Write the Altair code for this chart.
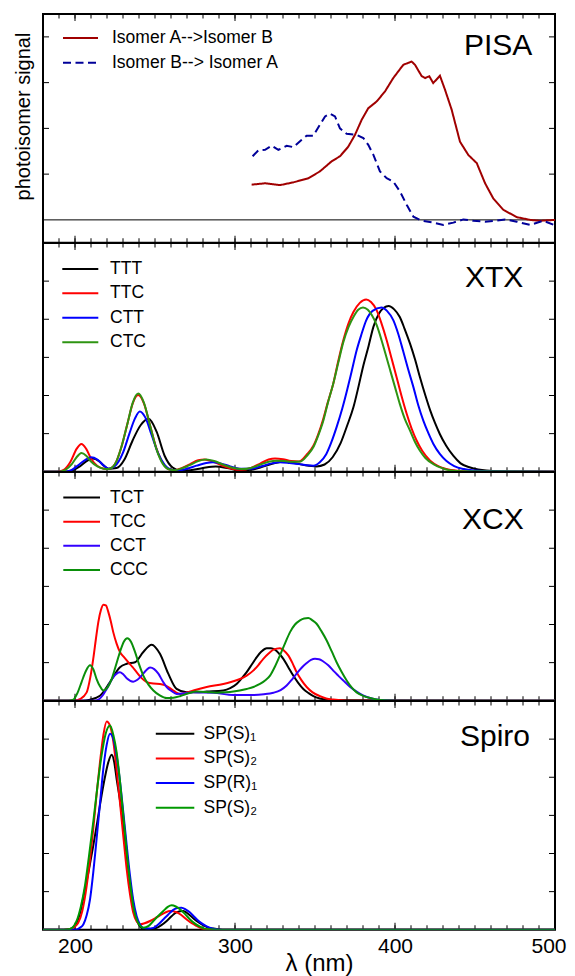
import altair as alt
import pandas as pd

FONT = "Liberation Sans"
W = 512
H = 228.75

# ---------------- axis / tick values ----------------
minor_ticks = [180, 190, 200, 210, 220, 230, 240, 250, 260, 270, 280, 290, 300,
               310, 320, 330, 340, 350, 360, 370, 380, 390, 400, 410, 420, 430,
               440, 450, 460, 470, 480, 490, 500]
major_ticks = [200, 300, 400, 500]
x_labels = [200, 300, 400, 500]
pisa_yticks = [1, 2, 3, 4]
spec_yticks = [1, 2, 3, 4, 5]

# ---------------- PISA ----------------
pisa_names = ["Isomer A-->Isomer B", "Isomer B--> Isomer A"]
pisa_colors = ["#a00000", "#000099"]
pisa_ab_nm = [310.4, 318.8, 328.1, 336.5, 345.8, 353.1, 360.4, 365.6, 370.8, 375.0,
              379.2, 383.3, 388.6, 393.8, 398.9, 405.2, 410.4, 412.5, 416.7, 418.8,
              421.4, 423.9, 428.1, 431.3, 435.4, 440.6, 445.8, 451.1, 456.3, 461.4,
              467.7, 476.1, 484.4, 490.6, 500.0]
pisa_ab_v = [0.77, 0.80, 0.76, 0.82, 0.91, 1.06, 1.28, 1.39, 1.60, 1.86,
             2.19, 2.44, 2.59, 2.81, 3.10, 3.39, 3.46, 3.39, 3.14, 3.10,
             3.14, 2.99, 3.15, 2.84, 2.41, 1.71, 1.42, 1.24, 0.80, 0.47,
             0.22, 0.06, 0.00, -0.02, 0.00]
pisa_ba_nm = [311.0, 314.6, 318.8, 322.9, 327.1, 332.3, 336.5, 341.7, 344.8, 348.9,
              353.1, 356.3, 359.4, 362.5, 365.6, 369.8, 376.0, 380.2, 383.3, 386.5,
              390.6, 394.8, 398.9, 403.1, 407.3, 411.5, 416.7, 423.9, 430.2, 436.5,
              442.7, 449.0, 456.3, 462.5, 468.8, 476.1, 484.4, 492.7, 500.0]
pisa_ba_v = [1.39, 1.52, 1.53, 1.62, 1.53, 1.62, 1.59, 1.75, 1.84, 1.84,
             2.08, 2.26, 2.32, 2.26, 2.00, 1.88, 1.86, 1.79, 1.64, 1.42,
             1.06, 0.91, 0.84, 0.62, 0.33, 0.07, -0.02, -0.06, -0.11, -0.06,
             0.01, -0.02, -0.04, -0.02, 0.01, -0.04, -0.11, -0.02, -0.12]

# ---------------- XTX ----------------
xtx_names = ["TTT", "TTC", "CTT", "CTC"]
xtx_colors = ["#000000", "#ff0000", "#0000ff", "#2e9412"]
ttt_nm = [180, 193, 198, 203, 207, 211, 215, 218, 221, 226, 231, 236, 241, 246, 251,
          256, 261, 266, 272, 280, 288, 296, 303, 310, 318, 325, 331, 337, 344, 351,
          356, 361, 366, 370, 374, 377, 380, 383.5, 386.5, 390, 393, 396, 399.5, 403,
          406, 409.4, 412.5, 415.6, 419, 422, 425, 428, 432, 436.4, 441, 447, 452,
          457, 466, 500]
ttt_v = [0, 0, 0.03, 0.14, 0.27, 0.35, 0.28, 0.16, 0.08, 0.10, 0.33, 0.82, 1.22, 1.39,
         1.05, 0.42, 0.11, 0.03, 0.04, 0.10, 0.14, 0.09, 0.03, 0.05, 0.14, 0.23, 0.26,
         0.23, 0.17, 0.14, 0.19, 0.38, 0.75, 1.20, 1.69, 2.20, 2.75, 3.30, 3.80, 4.15,
         4.30, 4.35, 4.26, 4.06, 3.75, 3.36, 2.95, 2.48, 2.00, 1.61, 1.28, 0.99, 0.68,
         0.42, 0.22, 0.11, 0.06, 0.03, 0.01, 0]
ttc_nm = [180, 189, 193, 197, 201, 204, 207, 210, 214, 218, 221, 225, 229, 233, 236,
          239.5, 243, 247, 251, 255, 259, 262, 267, 272, 277, 281, 286, 292, 298, 304,
          310, 316, 321, 325, 330, 335, 340, 345, 349, 352, 355.2, 358, 361.4, 364.5,
          367.7, 371, 374, 378, 382, 385, 388.5, 391.5, 394.8, 398, 401, 404, 407.3,
          410.5, 413.5, 417, 422, 427, 432, 440, 450, 500]
ttc_v = [0, 0, 0.05, 0.25, 0.60, 0.73, 0.60, 0.35, 0.15, 0.08, 0.07, 0.20, 0.65, 1.30,
         1.78, 2.01, 1.80, 1.20, 0.60, 0.22, 0.06, 0.04, 0.10, 0.20, 0.30, 0.32, 0.27,
         0.16, 0.08, 0.05, 0.10, 0.22, 0.32, 0.35, 0.33, 0.28, 0.27, 0.46, 0.68, 0.98,
         1.39, 1.82, 2.31, 2.90, 3.45, 3.90, 4.19, 4.43, 4.52, 4.45, 4.24, 3.90, 3.45,
         2.95, 2.48, 2.00, 1.52, 1.12, 0.82, 0.55, 0.29, 0.15, 0.07, 0.02, 0, 0]
ctt_nm = [180, 194, 198, 202, 206, 210, 214, 218, 221, 225, 230, 234, 237.5, 240.5,
          244, 248, 252, 256, 260, 264, 270, 276, 282, 286, 291, 297, 303, 310, 317,
          323, 328, 334, 340, 345, 349, 353, 357, 360, 363.5, 367, 370, 373, 376, 379,
          382, 386, 391.5, 395, 399, 402, 405, 408, 411.5, 414.5, 417.7, 421, 424, 428,
          432, 437, 443, 450, 460, 500]
ctt_v = [0, 0, 0.05, 0.17, 0.30, 0.38, 0.32, 0.16, 0.08, 0.15, 0.50, 1.00, 1.40, 1.58,
         1.42, 0.95, 0.48, 0.18, 0.05, 0.03, 0.08, 0.16, 0.23, 0.25, 0.22, 0.14, 0.08,
         0.08, 0.15, 0.22, 0.25, 0.23, 0.20, 0.17, 0.16, 0.25, 0.46, 0.75, 1.17, 1.65,
         2.13, 2.65, 3.18, 3.60, 3.97, 4.22, 4.31, 4.22, 3.97, 3.62, 3.18, 2.72, 2.22,
         1.75, 1.34, 1.00, 0.73, 0.47, 0.29, 0.15, 0.07, 0.03, 0.01, 0]
ctc_nm = [180, 190, 194, 198, 201, 204, 207, 210, 214, 218, 221, 225, 229, 233, 236,
          239.5, 243, 247, 251, 255, 259, 262, 267, 272, 277, 282, 287, 293, 299, 304,
          310, 316, 321, 326, 331, 336, 341, 345, 349, 352, 355.2, 358, 361.4, 364.5,
          367.7, 371, 374, 377, 380, 383, 385.5, 388.5, 391.6, 394, 397, 400, 403, 406,
          409.4, 412.5, 415.6, 419, 424, 429, 434, 442, 500]
ctc_v = [0, 0, 0.05, 0.20, 0.38, 0.49, 0.42, 0.27, 0.14, 0.08, 0.07, 0.20, 0.65, 1.30,
         1.80, 2.05, 1.82, 1.20, 0.58, 0.20, 0.06, 0.04, 0.09, 0.18, 0.28, 0.32, 0.28,
         0.18, 0.10, 0.07, 0.10, 0.19, 0.26, 0.29, 0.28, 0.26, 0.27, 0.42, 0.65, 0.95,
         1.34, 1.80, 2.31, 2.85, 3.40, 3.80, 4.06, 4.25, 4.31, 4.25, 4.11, 3.85, 3.45,
         3.10, 2.66, 2.22, 1.78, 1.40, 1.08, 0.78, 0.55, 0.36, 0.20, 0.10, 0.04, 0.01, 0]

# ---------------- XCX ----------------
xcx_names = ["TCT", "TCC", "CCT", "CCC"]
xcx_colors = ["#000000", "#ff0000", "#3300ff", "#0a8f0a"]
tct_nm = [180, 205, 209.4, 215.6, 221.9, 228.1, 232.3, 237.5, 242.7, 247.9, 253.1,
          258.3, 263.5, 269.8, 276, 282.3, 292.7, 297, 301, 304, 307.3, 310.5, 313.5,
          316.5, 319.8, 322.5, 325, 327.5, 330.2, 333.3, 336.4, 339.5, 342.7, 346, 349,
          353, 357.3, 365, 500]
tct_v = [0, 0, 0.03, 0.13, 0.49, 0.88, 0.97, 1.01, 1.28, 1.47, 1.23, 0.71, 0.31, 0.22,
         0.22, 0.24, 0.27, 0.33, 0.44, 0.58, 0.75, 0.95, 1.14, 1.29, 1.38, 1.38, 1.34,
         1.24, 1.10, 0.88, 0.66, 0.47, 0.31, 0.20, 0.12, 0.06, 0.03, 0.01, 0]
tcc_nm = [180, 200, 203, 207.3, 209.5, 211.4, 213, 214.6, 216.2, 217.7, 219.3, 220.8,
          222.4, 223.9, 226, 228.1, 230.5, 233.3, 236, 238.5, 241.5, 244.8, 249, 253.1,
          256, 258.3, 262, 265.6, 269.5, 274, 282.3, 292.7, 298, 303.1, 307.3, 311.4,
          314.5, 317.7, 321, 324, 328.1, 330.5, 333.3, 336, 338.5, 341.5, 344.8, 348.5,
          353.1, 357, 361.4, 370, 500]
tcc_v = [0, 0, 0.04, 0.22, 0.60, 1.10, 1.60, 2.07, 2.38, 2.52, 2.50, 2.33, 2.08, 1.80,
         1.50, 1.28, 1.15, 1.01, 0.88, 0.75, 0.60, 0.49, 0.45, 0.44, 0.41, 0.36, 0.25,
         0.18, 0.21, 0.27, 0.36, 0.44, 0.50, 0.57, 0.66, 0.79, 0.93, 1.10, 1.24, 1.34,
         1.38, 1.32, 1.19, 0.98, 0.75, 0.54, 0.36, 0.22, 0.12, 0.06, 0.03, 0, 0]
cct_nm = [180, 212, 215, 217.5, 219.8, 223.9, 228.1, 230, 232.3, 236.4, 239, 241.6,
          244.5, 246.9, 249.5, 252.1, 255, 257.3, 260.5, 263.5, 268, 274, 286.4, 299,
          311.4, 318, 324, 328.5, 332.3, 335.5, 338.5, 341.5, 344.8, 347.5, 350, 352.5,
          355.2, 358.3, 361.4, 364.5, 367.7, 371.8, 376, 380, 384.4, 390.6, 400, 500]
cct_v = [0, 0, 0.04, 0.15, 0.31, 0.62, 0.75, 0.70, 0.59, 0.50, 0.55, 0.66, 0.80, 0.87,
         0.83, 0.71, 0.50, 0.36, 0.25, 0.18, 0.19, 0.22, 0.21, 0.15, 0.15, 0.17, 0.21,
         0.28, 0.40, 0.55, 0.71, 0.86, 0.99, 1.07, 1.10, 1.09, 1.03, 0.93, 0.79, 0.66,
         0.53, 0.37, 0.24, 0.14, 0.07, 0.02, 0, 0]
ccc_nm = [180, 196, 199, 201.5, 204.1, 206.8, 209.4, 211.5, 213.5, 215.6, 217.7, 220.3,
          222.9, 225.5, 228.1, 230.5, 232.7, 235, 237.5, 240, 242.7, 245.8, 249, 253,
          257.3, 261.5, 265.6, 270.5, 276, 282, 288.5, 294, 299, 307.3, 311.5, 315.6,
          318.8, 321.9, 325, 328.1, 331.2, 334.4, 337.5, 340.6, 343.2, 345.8, 348.4,
          351, 354.1, 357.3, 360.4, 363.5, 366.6, 369.8, 372.9, 376, 380, 384.4, 390.6,
          400, 500]
ccc_v = [0, 0, 0.03, 0.20, 0.49, 0.78, 0.93, 0.82, 0.57, 0.38, 0.27, 0.35, 0.57, 0.92,
         1.28, 1.55, 1.64, 1.55, 1.28, 0.96, 0.66, 0.43, 0.27, 0.14, 0.07, 0.08, 0.12,
         0.19, 0.24, 0.23, 0.21, 0.22, 0.24, 0.31, 0.36, 0.44, 0.53, 0.66, 0.90, 1.19,
         1.50, 1.80, 2.00, 2.11, 2.16, 2.17, 2.11, 2.02, 1.82, 1.58, 1.30, 1.01, 0.76,
         0.53, 0.35, 0.22, 0.13, 0.07, 0.02, 0, 0]

# ---------------- Spiro ----------------
spiro_names = ["SP(S)\u2081", "SP(S)\u2082", "SP(R)\u2081", "SP(S)\u2082"]
spiro_colors = ["#000000", "#ff0000", "#0000ff", "#009900"]
sps1_nm = [180, 193, 197, 201, 203.5, 206.2, 208.8, 211.4, 214, 216.6, 218.7, 220.8,
           222.9, 224.5, 226, 228.1, 230.2, 232.3, 234.4, 236.4, 238.5, 240.6, 242.7,
           247, 251, 254, 257.3, 260.5, 263.5, 267.7, 270, 272.9, 276, 279.2, 282.5,
           286.4, 292, 500]
sps1_v = [0, 0, 0.02, 0.18, 0.50, 1.06, 1.60, 2.20, 2.85, 3.52, 4.00, 4.39, 4.59, 4.40,
          3.96, 3.40, 2.73, 1.95, 1.24, 0.68, 0.27, 0.09, 0.03, 0.02, 0.05, 0.12, 0.23,
          0.36, 0.46, 0.49, 0.44, 0.34, 0.23, 0.14, 0.07, 0.03, 0, 0]
sps2_nm = [180, 193, 196.9, 199.5, 202, 204.6, 207.3, 209.4, 211.4, 213.5, 215.6, 217.7,
           219.8, 221.9, 224, 226, 228.1, 230.2, 232.3, 234.4, 236.4, 238.5, 240.6,
           243.5, 246.9, 250, 253.1, 256.3, 259.4, 263.5, 266.6, 269.8, 273, 276, 279,
           282.3, 290, 500]
sps2_v = [0, 0, 0.02, 0.07, 0.18, 0.50, 1.15, 1.85, 2.64, 3.55, 4.39, 5.10, 5.46, 5.35,
          4.92, 4.20, 3.34, 2.45, 1.59, 0.92, 0.45, 0.22, 0.14, 0.17, 0.23, 0.30, 0.38,
          0.45, 0.49, 0.46, 0.38, 0.27, 0.17, 0.10, 0.04, 0.01, 0, 0]
spr1_nm = [180, 198, 201, 203, 205.2, 207.3, 209.4, 211.4, 213.5, 215.6, 217.7, 219.8,
           221.9, 224, 226, 228.1, 230.2, 232.3, 234.4, 236.4, 238.5, 240.6, 242.7, 246,
           249, 252, 255.2, 258.3, 261.4, 264, 266.6, 269.3, 271.9, 275, 278.1, 282.3,
           286.4, 292, 500]
spr1_v = [0, 0, 0.01, 0.05, 0.14, 0.38, 0.80, 1.50, 2.38, 3.30, 4.22, 4.85, 5.14, 5.00,
          4.57, 3.90, 3.08, 2.22, 1.41, 0.78, 0.36, 0.14, 0.05, 0.03, 0.05, 0.14, 0.27,
          0.40, 0.52, 0.57, 0.58, 0.53, 0.45, 0.32, 0.20, 0.09, 0.03, 0, 0]
sps2b_nm = [180, 193, 196.9, 199, 201, 203.6, 206.2, 208.8, 211.4, 214, 216.6, 219.2,
            221.9, 224, 226, 228.1, 230.2, 232.3, 234.4, 236.4, 238.5, 240.6, 242.7, 246,
            249, 252, 255.2, 258, 260.4, 263, 265.6, 268.8, 271.9, 275, 278.1, 281,
            284.4, 290, 500]
sps2b_v = [0, 0, 0.02, 0.08, 0.23, 0.60, 1.15, 1.95, 2.82, 3.75, 4.57, 5.15, 5.36, 5.10,
           4.66, 3.90, 2.99, 2.05, 1.24, 0.62, 0.27, 0.11, 0.05, 0.10, 0.23, 0.36, 0.49,
           0.60, 0.64, 0.61, 0.54, 0.41, 0.27, 0.16, 0.08, 0.03, 0.01, 0, 0]

# ---------------- helpers ----------------
xscale = alt.Scale(domain=[180, 500], nice=False, zero=False)


def make_df(prefix, labels, xs_list, ys_list):
    rows = []
    for i, (lab, xs, ys) in enumerate(zip(labels, xs_list, ys_list)):
        assert len(xs) == len(ys), (lab, len(xs), len(ys))
        for x, y in zip(xs, ys):
            rows.append({"key": f"{prefix}{i}", "label": lab, "nm": x, "v": y})
    return pd.DataFrame(rows)


def panel(prefix, labels, colors, xs_list, ys_list, ydomain, yticks, title,
          title_pos, legend_pos, interp, xaxis, yaxis, dashes=None, zero_line=False):
    df = make_df(prefix, labels, xs_list, ys_list)
    keys = [f"{prefix}{i}" for i in range(len(labels))]
    yscale = alt.Scale(domain=ydomain, nice=False, zero=False)
    cscale = alt.Scale(domain=keys, range=colors)
    color = alt.Color("key:N", scale=cscale, legend=None)

    enc = dict(
        x=alt.X("nm:Q", scale=xscale, axis=xaxis),
        y=alt.Y("v:Q", scale=yscale, axis=yaxis),
        color=color,
    )
    if dashes:
        enc["strokeDash"] = alt.StrokeDash("key:N", scale=alt.Scale(domain=keys, range=dashes), legend=None)
    lines = alt.Chart(df).mark_line(strokeWidth=2, clip=True, interpolate=interp).encode(**enc)

    layers = []
    minor_df = pd.DataFrame({"t": minor_ticks})
    major_df = pd.DataFrame({"t": major_ticks})
    for tdf, ln in ((minor_df, 4.5), (major_df, 7)):
        for y0, y1 in ((0, ln), (H, H - ln)):
            layers.append(
                alt.Chart(tdf).mark_rule(color="black", strokeWidth=1).encode(
                    x=alt.X("t:Q", scale=xscale, axis=xaxis),
                    y=alt.value(y0), y2=alt.value(y1))
            )
    ydf = pd.DataFrame({"v": yticks})
    for x0, x1 in ((0, 6), (W, W - 6)):
        layers.append(
            alt.Chart(ydf).mark_rule(color="black", strokeWidth=1).encode(
                x=alt.value(x0), x2=alt.value(x1),
                y=alt.Y("v:Q", scale=yscale, axis=yaxis))
        )
    if zero_line:
        layers.append(
            alt.Chart(pd.DataFrame({"v": [0]})).mark_rule(color="black", strokeWidth=1).encode(
                y=alt.Y("v:Q", scale=yscale, axis=yaxis))
        )
    layers.append(lines)

    # legend drawn inside the plot
    ly0, lstep, lx0, lx1, tx = legend_pos
    ldf = pd.DataFrame({"key": keys, "label": labels, "row": list(range(len(labels)))})
    lbase = alt.Chart(ldf).transform_calculate(ly=f"{ly0} + {lstep} * datum.row")
    lenc = dict(
        x=alt.value(lx0), x2=alt.value(lx1),
        y=alt.Y("ly:Q", scale=None, axis=None),
        color=color,
    )
    if dashes:
        lenc["strokeDash"] = alt.StrokeDash("key:N", scale=alt.Scale(domain=keys, range=dashes), legend=None)
    layers.append(lbase.mark_rule(strokeWidth=2).encode(**lenc))
    layers.append(
        lbase.mark_text(align="left", baseline="middle", font=FONT, fontSize=17.5, color="black").encode(
            x=alt.value(tx), y=alt.Y("ly:Q", scale=None, axis=None), text="label:N")
    )
    # panel name
    nx, ny = title_pos
    layers.append(
        alt.Chart(pd.DataFrame({"name": [title]})).mark_text(
            align="left", baseline="alphabetic", font=FONT, fontSize=30, color="black").encode(
            x=alt.value(nx), y=alt.value(ny), text="name:N")
    )
    return alt.layer(*layers).properties(width=W, height=H)


pisa_yaxis = alt.Axis(title="photoisomer signal", ticks=False, tickSize=0, labels=False,
                      domain=False, grid=False, titleFont=FONT, titleFontSize=20,
                      titleFontWeight="normal", titleColor="black", titlePadding=10,
                      titleY=102)
bottom_xaxis = alt.Axis(values=x_labels, ticks=False, tickSize=0, domain=False, grid=False,
                        labelFont=FONT, labelFontSize=21, labelColor="black", labelPadding=6,
                        labelFlush=True, labelFlushOffset=11, labelOverlap=False,
                        title="λ (nm)", titleFont=FONT,
                        titleFontSize=24, titleFontWeight="normal", titleColor="black",
                        titlePadding=-5, titleX=276)

p1 = panel("p", pisa_names, pisa_colors, [pisa_ab_nm, pisa_ba_nm], [pisa_ab_v, pisa_ba_v],
           [-0.5, 4.5], pisa_yticks, "PISA", (421, 40.7), (24, 24.7, 20, 55, 69),
           "linear", None, pisa_yaxis, dashes=[[1, 0], [8, 4.5]], zero_line=True)
p2 = panel("x", xtx_names, xtx_colors, [ttt_nm, ttc_nm, ctt_nm, ctc_nm],
           [ttt_v, ttc_v, ctt_v, ctc_v], [0, 6], spec_yticks, "XTX", (422, 44.3),
           (25.9, 24.45, 19.3, 55.3, 67), "monotone", None, None)
p3 = panel("c", xcx_names, xcx_colors, [tct_nm, tcc_nm, cct_nm, ccc_nm],
           [tct_v, tcc_v, cct_v, ccc_v], [0, 6], spec_yticks, "XCX", (419, 57.2),
           (25.5, 24.15, 20.3, 57, 67), "monotone", None, None)
p4 = panel("s", spiro_names, spiro_colors, [sps1_nm, sps2_nm, spr1_nm, sps2b_nm],
           [sps1_v, sps2_v, spr1_v, sps2b_v], [0, 6], spec_yticks, "Spiro", (417, 45),
           (32.75, 24.65, 112.8, 151.3, 160.5), "monotone", bottom_xaxis, None)

chart = (
    alt.vconcat(p1, p2, p3, p4, spacing=0, bounds="flush")
    .resolve_scale(y="independent", color="independent", strokeDash="independent")
    .properties(padding={"left": 4, "top": 4, "right": 0, "bottom": 0})
    .configure_view(stroke="black", strokeWidth=2)
)

chart.save("out.html", embed_options={"renderer": "svg", "actions": False})
